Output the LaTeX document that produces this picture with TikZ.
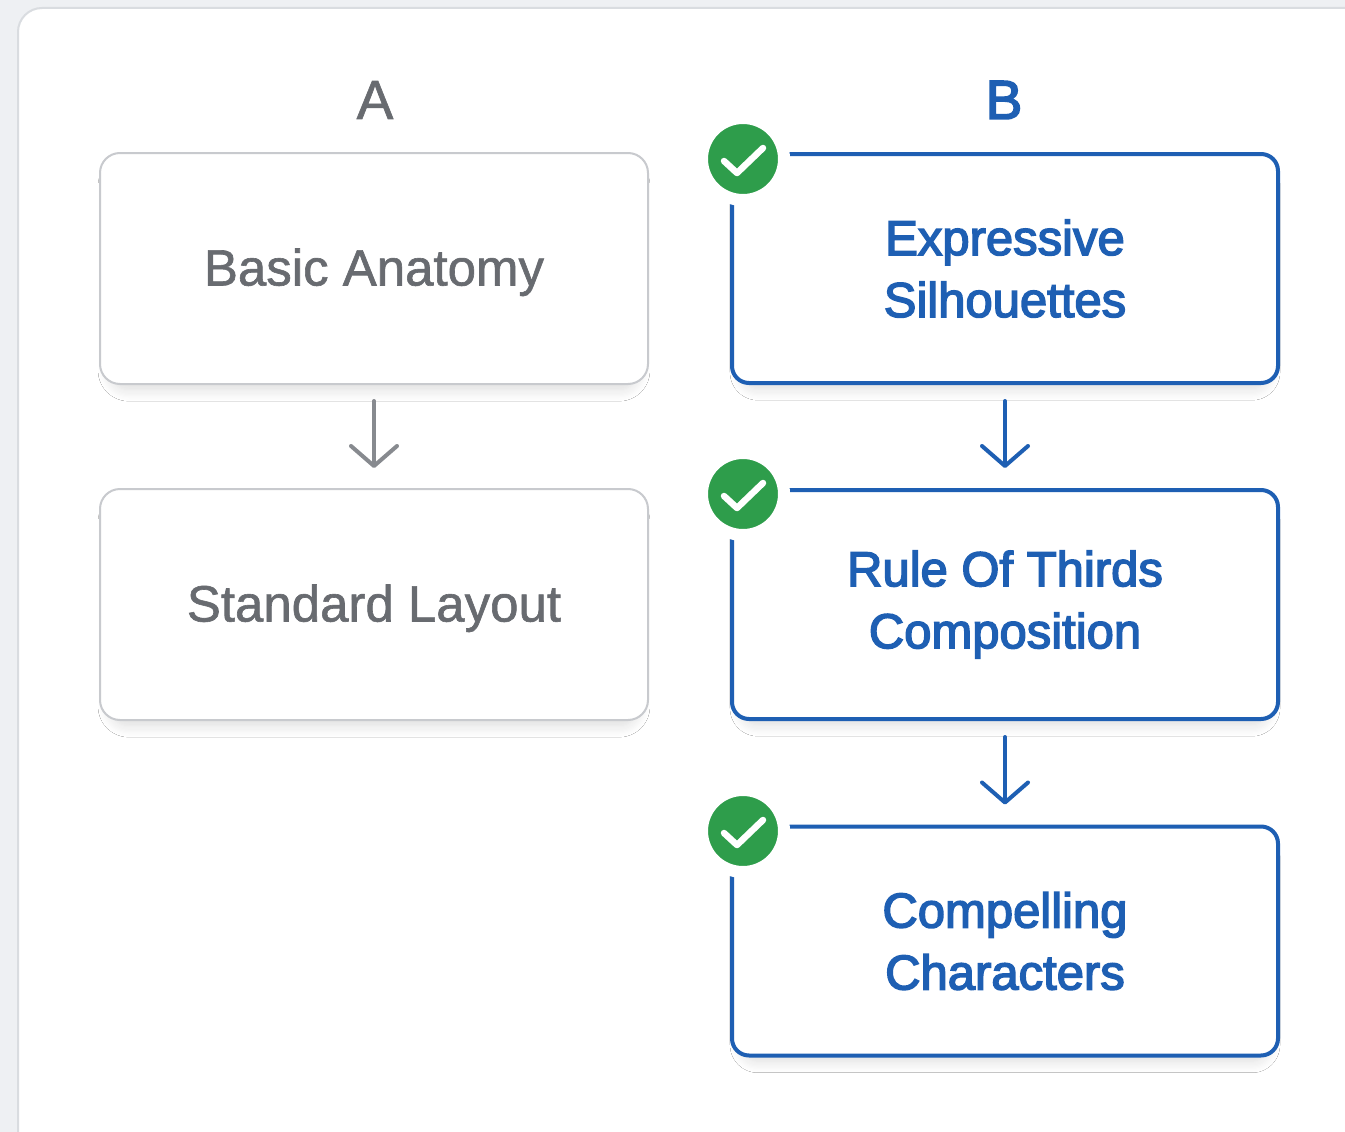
\documentclass[tikz,border=0pt]{standalone}
\usepackage{fontspec}
\setmainfont{Liberation Sans}
\newfontfamily\medfont[FakeBold=3]{Liberation Sans}
\newfontfamily\greyfont[FakeBold=1.2]{Liberation Sans}
\usetikzlibrary{shadows.blur,arrows.meta}
\definecolor{bgc}{HTML}{EEF0F3}
\definecolor{panelb}{HTML}{D9DCE0}
\definecolor{bluec}{HTML}{1E5FB3}
\definecolor{greyt}{HTML}{686B70}
\definecolor{greyb}{HTML}{C8CACE}
\definecolor{greya}{HTML}{878A8F}
\definecolor{greenc}{HTML}{2E9D4B}
\tikzset{
  softshadow/.style={blur shadow={shadow xshift=0pt, shadow yshift=-10pt, shadow blur radius=12pt,
    shadow blur steps=10, shadow opacity=14, shadow scale=0.965}},
  greybox/.style={draw=greyb, line width=2pt, fill=white, rounded corners=20pt,
    minimum width=548pt, minimum height=231pt, text=greyt, align=center,
    text height=34pt, text depth=0pt,
    font=\greyfont\fontsize{51}{62}\selectfont, softshadow},
  bluebox/.style={draw=bluec, line width=4pt, fill=white, rounded corners=17pt,
    minimum width=546pt, minimum height=229pt, text=bluec, align=center,
    font=\medfont\fontsize{49}{62}\selectfont, softshadow},
  checkc/.style={circle, fill=greenc, draw=white, line width=12pt, minimum size=82pt, inner sep=0pt},
  checkm/.style={white, line width=6.5pt, line cap=round, line join=round},
  garrow/.style={draw=greya, line width=4pt, line cap=round,
    -{Straight Barb[length=20pt, width=46pt, line width=4pt, round]}},
  barrow/.style={draw=bluec, line width=4pt, line cap=round,
    -{Straight Barb[length=20pt, width=46pt, line width=4pt, round]}},
  collabel/.style={font=\fontsize{55}{60}\selectfont}
}
\begin{document}
\begin{tikzpicture}[x=1pt,y=-1pt]
\useasboundingbox (0,0) rectangle (1345,1132);
\fill[bgc] (0,0) rectangle (1345,1132);
\draw[panelb, line width=2pt, fill=white, rounded corners=24pt] (18,8) rectangle (1380,1165);

\node[collabel, text=greyt] (la) at (375,100) {\greyfont A};
\node[collabel, text=bluec] (lb) at (1004,100) {\medfont B};

\node[greybox] (a1) at (374,268.5) {Basic Anatomy};
\node[greybox] (a2) at (374,604.5) {Standard Layout};

\node[bluebox] (b1) at (1005,268.5) {Expressive\\Silhouettes};
\node[bluebox] (b2) at (1005,604.5) {Rule Of Thirds\\Composition};
\node[bluebox] (b3) at (1005,941) {Compelling\\Characters};

\foreach \n/\y in {c1/159, c2/494, c3/831}{
  \node[checkc] (\n) at (743,\y) {};
  \draw[checkm] ([shift={(-19,2)}]\n.center) -- ([shift={(-6,14)}]\n.center) -- ([shift={(20,-11)}]\n.center);
}

\draw[garrow, shorten <=16pt, shorten >=20pt] (a1.south) -- (a2.north);
\draw[barrow, shorten <=16pt, shorten >=20pt] (b1.south) -- (b2.north);
\draw[barrow, shorten <=16pt, shorten >=20pt] (b2.south) -- (b3.north);
\end{tikzpicture}
\end{document}
